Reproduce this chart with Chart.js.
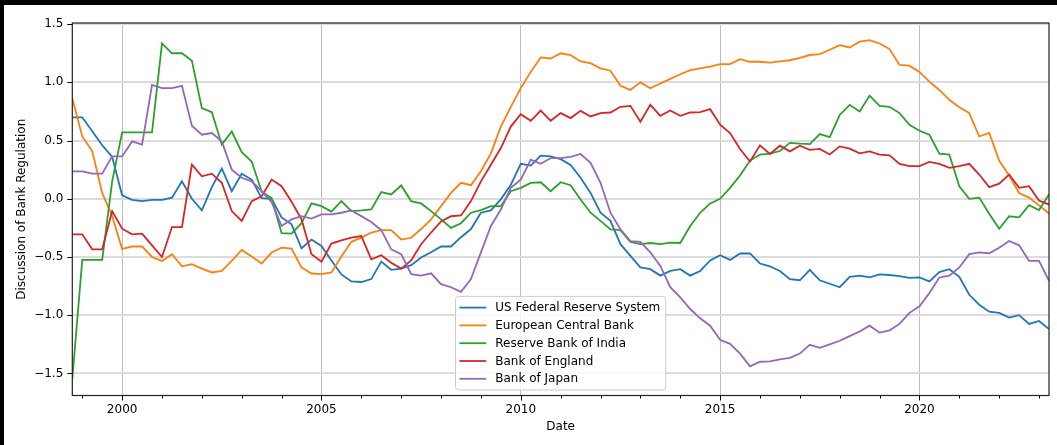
<!DOCTYPE html>
<html>
<head>
<meta charset="utf-8">
<script src="https://cdn.jsdelivr.net/npm/chart.js@4.4.1/dist/chart.umd.min.js"></script>
<style>
  html, body { margin: 0; padding: 0; background: #000; }
  #wrap { position: absolute; left: 4px; top: 5px; width: 1053px; height: 440px; background: #fff; }
</style>
</head>
<body>
<div id="wrap"><canvas id="chart" width="1053" height="440"></canvas></div>
<script>
// quarterly dates, 1998Q4 .. 2023Q2
const quarters = [
  "1998Q4",
  "1999Q1", "1999Q2", "1999Q3", "1999Q4", "2000Q1", "2000Q2", "2000Q3", "2000Q4",
  "2001Q1", "2001Q2", "2001Q3", "2001Q4", "2002Q1", "2002Q2", "2002Q3", "2002Q4",
  "2003Q1", "2003Q2", "2003Q3", "2003Q4", "2004Q1", "2004Q2", "2004Q3", "2004Q4",
  "2005Q1", "2005Q2", "2005Q3", "2005Q4", "2006Q1", "2006Q2", "2006Q3", "2006Q4",
  "2007Q1", "2007Q2", "2007Q3", "2007Q4", "2008Q1", "2008Q2", "2008Q3", "2008Q4",
  "2009Q1", "2009Q2", "2009Q3", "2009Q4", "2010Q1", "2010Q2", "2010Q3", "2010Q4",
  "2011Q1", "2011Q2", "2011Q3", "2011Q4", "2012Q1", "2012Q2", "2012Q3", "2012Q4",
  "2013Q1", "2013Q2", "2013Q3", "2013Q4", "2014Q1", "2014Q2", "2014Q3", "2014Q4",
  "2015Q1", "2015Q2", "2015Q3", "2015Q4", "2016Q1", "2016Q2", "2016Q3", "2016Q4",
  "2017Q1", "2017Q2", "2017Q3", "2017Q4", "2018Q1", "2018Q2", "2018Q3", "2018Q4",
  "2019Q1", "2019Q2", "2019Q3", "2019Q4", "2020Q1", "2020Q2", "2020Q3", "2020Q4",
  "2021Q1", "2021Q2", "2021Q3", "2021Q4", "2022Q1", "2022Q2", "2022Q3", "2022Q4",
  "2023Q1", "2023Q2"
];

const usFed = [
  0.70, 0.70, 0.58, 0.46, 0.36, 0.03, -0.01, -0.02, -0.01, -0.01, 0.01, 0.15, 0.00, -0.10, 0.10, 0.26, 0.065, 0.215, 0.165, 0.005,
  0.00, -0.16, -0.22, -0.425, -0.35, -0.405, -0.53, -0.65, -0.71, -0.715, -0.69, -0.54, -0.61, -0.60, -0.57, -0.505, -0.46, -0.41, -0.41, -0.33,
  -0.26, -0.12, -0.10, -0.005, 0.12, 0.30, 0.285, 0.37, 0.365, 0.34, 0.29, 0.18, 0.05, -0.12, -0.19, -0.39, -0.49, -0.59, -0.605, -0.66,
  -0.62, -0.605, -0.66, -0.62, -0.53, -0.485, -0.525, -0.47, -0.47, -0.556, -0.58, -0.62, -0.69, -0.70, -0.61, -0.70, -0.73, -0.76, -0.67, -0.66,
  -0.675, -0.65, -0.655, -0.665, -0.68, -0.675, -0.71, -0.63, -0.605, -0.67, -0.825, -0.91, -0.97, -0.98, -1.02, -1.00, -1.075, -1.05, -1.12
];
const ecb = [
  0.864, 0.535, 0.41, 0.05, -0.15, -0.43, -0.41, -0.41, -0.50, -0.534, -0.476, -0.58, -0.562, -0.60, -0.633, -0.62, -0.534, -0.44, -0.496, -0.556,
  -0.462, -0.42, -0.428, -0.59, -0.642, -0.648, -0.633, -0.496, -0.37, -0.334, -0.29, -0.27, -0.27, -0.35, -0.335, -0.26, -0.177, -0.063, 0.05, 0.137,
  0.117, 0.236, 0.39, 0.62, 0.79, 0.95, 1.09, 1.215, 1.205, 1.25, 1.235, 1.18, 1.165, 1.12, 1.10, 0.97, 0.935, 1.00, 0.95, 0.99,
  1.03, 1.07, 1.105, 1.12, 1.135, 1.157, 1.157, 1.20, 1.177, 1.177, 1.17, 1.18, 1.19, 1.21, 1.235, 1.243, 1.28, 1.32, 1.30, 1.35,
  1.363, 1.334, 1.286, 1.15, 1.143, 1.09, 1.006, 0.935, 0.85, 0.787, 0.736, 0.535, 0.565, 0.328, 0.20, 0.05, 0.01, -0.057, -0.126
];
const rbi = [
  -1.55, -0.525, -0.525, -0.525, 0.15, 0.57, 0.57, 0.57, 0.57, 1.335, 1.25, 1.25, 1.186, 0.778, 0.744, 0.465, 0.578, 0.40, 0.32, 0.06,
  0.005, -0.295, -0.30, -0.21, -0.04, -0.063, -0.11, -0.02, -0.106, -0.10, -0.092, 0.057, 0.037, 0.114, -0.02, -0.04, -0.106, -0.177, -0.25, -0.21,
  -0.12, -0.097, -0.063, -0.063, 0.065, 0.094, 0.137, 0.142, 0.065, 0.142, 0.117, -0.006, -0.12, -0.19, -0.263, -0.27, -0.37, -0.39, -0.38, -0.39,
  -0.377, -0.38, -0.234, -0.12, -0.04, 0.00, 0.094, 0.20, 0.328, 0.38, 0.388, 0.41, 0.48, 0.473, 0.47, 0.556, 0.53, 0.72, 0.807, 0.75,
  0.886, 0.798, 0.79, 0.736, 0.636, 0.584, 0.55, 0.388, 0.38, 0.108, 0.00, 0.01, -0.128, -0.257, -0.15, -0.16, -0.055, -0.097, 0.037
];
const boe = [
  -0.305, -0.305, -0.434, -0.434, -0.106, -0.257, -0.305, -0.30, -0.40, -0.50, -0.243, -0.243, 0.293, 0.193, 0.216, 0.137, -0.106, -0.19, -0.02, 0.022,
  0.165, 0.108, -0.025, -0.177, -0.476, -0.54, -0.385, -0.357, -0.334, -0.32, -0.52, -0.485, -0.55, -0.60, -0.53, -0.39, -0.29, -0.195, -0.15, -0.143,
  -0.02, 0.15, 0.293, 0.436, 0.62, 0.727, 0.67, 0.758, 0.67, 0.736, 0.693, 0.755, 0.707, 0.736, 0.741, 0.79, 0.798, 0.662, 0.807, 0.713,
  0.758, 0.713, 0.741, 0.744, 0.77, 0.636, 0.565, 0.428, 0.32, 0.459, 0.385, 0.456, 0.407, 0.456, 0.42, 0.428, 0.38, 0.45, 0.43, 0.39,
  0.407, 0.38, 0.373, 0.30, 0.28, 0.28, 0.316, 0.30, 0.265, 0.28, 0.30, 0.208, 0.10, 0.13, 0.208, 0.094, 0.108, -0.015, -0.05
];
const boj = [
  0.236, 0.236, 0.216, 0.216, 0.364, 0.364, 0.493, 0.465, 0.978, 0.95, 0.95, 0.97, 0.627, 0.55, 0.565, 0.493, 0.25, 0.18, 0.15, 0.065,
  -0.03, -0.234, -0.177, -0.149, -0.17, -0.134, -0.134, -0.12, -0.10, -0.149, -0.20, -0.27, -0.434, -0.476, -0.648, -0.66, -0.64, -0.733, -0.76, -0.80,
  -0.69, -0.46, -0.234, -0.092, 0.094, 0.165, 0.336, 0.30, 0.35, 0.35, 0.36, 0.385, 0.308, 0.137, -0.12, -0.263, -0.363, -0.37, -0.46, -0.577,
  -0.76, -0.847, -0.947, -1.027, -1.09, -1.212, -1.246, -1.33, -1.44, -1.40, -1.397, -1.38, -1.366, -1.33, -1.255, -1.28, -1.25, -1.22, -1.18, -1.14,
  -1.09, -1.15, -1.13, -1.075, -0.98, -0.924, -0.81, -0.676, -0.66, -0.59, -0.476, -0.46, -0.468, -0.42, -0.363, -0.40, -0.534, -0.534, -0.705
];

const seriesNames = ["US Federal Reserve System", "European Central Bank", "Reserve Bank of India", "Bank of England", "Bank of Japan"];
const seriesColors = ["#1f77b4", "#ff7f0e", "#2ca02c", "#d62728", "#9467bd"];
const seriesValues = [usFed, ecb, rbi, boe, boj];

const xTickYears = [1999, 2000, 2001, 2002, 2003, 2004, 2005, 2006, 2007, 2008, 2009, 2010, 2011,
  2012, 2013, 2014, 2015, 2016, 2017, 2018, 2019, 2020, 2021, 2022, 2023];
const yTicks = [-1.5, -1.0, -0.5, 0.0, 0.5, 1.0, 1.5];

// "1998Q4" -> 1998.75
const toYear = q => Number(q.slice(0, 4)) + (Number(q.slice(5)) - 1) / 4;
const xs = quarters.map(toYear);

Chart.defaults.font.family = '"DejaVu Sans", sans-serif';
Chart.defaults.font.size = 12;
Chart.defaults.color = '#000';

// spines + matplotlib-like tick marks
const frameTicks = {
  id: 'frameTicks',
  afterDraw(chart) {
    const { ctx, chartArea: a, scales } = chart;
    ctx.save();
    ctx.strokeStyle = '#000';
    ctx.lineWidth = 1;
    xTickYears.forEach(yr => {
      const px = Math.round(scales.x.getPixelForValue(yr)) + 0.5;
      const len = yr % 5 === 0 ? 5 : 3;
      ctx.beginPath(); ctx.moveTo(px, a.bottom); ctx.lineTo(px, a.bottom + len); ctx.stroke();
    });
    yTicks.forEach(v => {
      const py = Math.round(scales.y.getPixelForValue(v)) + 0.5;
      ctx.beginPath(); ctx.moveTo(a.left, py); ctx.lineTo(a.left - 5, py); ctx.stroke();
    });
    ctx.strokeStyle = '#222';
    ctx.lineWidth = 1.2;
    ctx.strokeRect(a.left, a.top, a.right - a.left, a.bottom - a.top);
    ctx.restore();
  }
};

// matplotlib-style legend, lower center inside the axes
const boxLegend = {
  id: 'boxLegend',
  afterDraw(chart) {
    const { ctx, chartArea: a } = chart;
    const sets = chart.data.datasets;
    ctx.save();
    ctx.font = '12px "DejaVu Sans"';
    const textW = Math.max(...sets.map(d => ctx.measureText(d.label).width));
    const w = 39.7 + textW + 5.5;
    const h = 2 * 11.2 + (sets.length - 1) * 17.8;
    const x = (a.left + a.right) / 2 - w / 2;
    const y = a.bottom - 5.5 - h;
    ctx.beginPath();
    ctx.roundRect(x, y, w, h, 3);
    ctx.fillStyle = 'rgba(255,255,255,0.8)';
    ctx.fill();
    ctx.strokeStyle = '#cccccc';
    ctx.lineWidth = 1;
    ctx.stroke();
    ctx.textBaseline = 'middle';
    ctx.textAlign = 'left';
    sets.forEach((d, i) => {
      const cy = y + 11.2 + i * 17.8;
      ctx.strokeStyle = d.borderColor;
      ctx.lineWidth = 1.8;
      ctx.beginPath(); ctx.moveTo(x + 4, cy); ctx.lineTo(x + 30.7, cy); ctx.stroke();
      ctx.fillStyle = '#000';
      ctx.fillText(d.label, x + 39.7, cy + 0.5);
    });
    ctx.restore();
  }
};

new Chart(document.getElementById('chart'), {
  type: 'line',
  data: {
    datasets: seriesNames.map((name, k) => ({
      label: name,
      data: seriesValues[k].map((v, i) => ({ x: xs[i], y: v })),
      borderColor: seriesColors[k],
      backgroundColor: seriesColors[k],
      borderWidth: 1.8,
      pointRadius: 0,
      tension: 0,
      fill: false,
      order: seriesNames.length - k
    }))
  },
  options: {
    responsive: false,
    animation: false,
    devicePixelRatio: 1,
    layout: { padding: { top: 18, right: 8, left: 0, bottom: 0 } },
    plugins: {
      legend: { display: false },
      tooltip: { enabled: false }
    },
    scales: {
      x: {
        type: 'linear',
        min: xs[0],
        max: xs[xs.length - 1],
        afterBuildTicks: s => { s.ticks = xTickYears.map(v => ({ value: v })); },
        afterFit: s => { s.height = 49.5; },
        ticks: {
          autoSkip: false,
          maxRotation: 0,
          padding: 7,
          callback: v => (v % 5 === 0 ? String(v) : '')
        },
        grid: {
          drawTicks: false,
          lineWidth: 1,
          color: c => (c.tick && c.tick.value % 5 === 0 ? '#bdbdbd' : 'rgba(0,0,0,0)')
        },
        border: { display: false },
        title: { display: true, text: 'Date', padding: { top: 0, bottom: 11 } }
      },
      y: {
        min: -1.69,
        max: 1.51,
        afterBuildTicks: s => { s.ticks = yTicks.map(v => ({ value: v })); },
        afterFit: s => { s.width = 68.3; },
        ticks: {
          padding: 9,
          callback: v => v.toFixed(1).replace('-', '\u2212')
        },
        grid: { drawTicks: false, lineWidth: 2, color: '#dcdcdc' },
        border: { display: false },
        title: { display: true, text: 'Discussion of Bank Regulation', padding: { top: 11, bottom: 0 } }
      }
    }
  },
  plugins: [frameTicks, boxLegend]
});
</script>
</body>
</html>
